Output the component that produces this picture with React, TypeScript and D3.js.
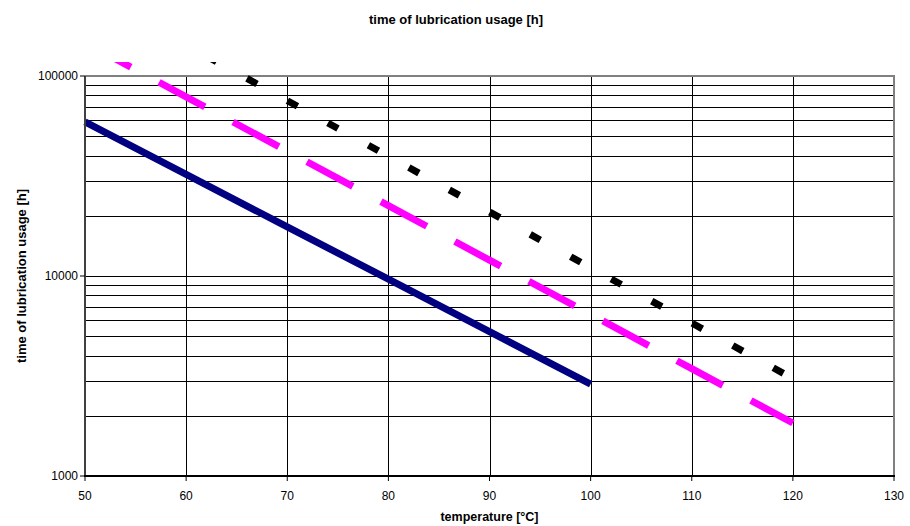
import React from "react";
import * as d3 from "d3";

// temperature [°C] and lubrication life [h]
const blueTemps = [50, 60, 70, 80, 90, 100];
const blueValues = [58900, 32200, 17600, 9640, 5270, 2880];

const pinkTemps = [50, 60, 70, 80, 90, 100, 110, 120];
const pinkValues = [147000, 78700, 42100, 22500, 12000, 6430, 3440, 1840];

const blackTemps = [50, 60, 70, 80, 90, 100, 110, 120];
const blackValues = [271000, 143000, 75300, 39700, 20900, 11000, 5820, 3070];

const xTicks = [50, 60, 70, 80, 90, 100, 110, 120, 130];
const yTicks = [1000, 10000, 100000];

const title = "time of lubrication usage [h]";
const xTitle = "temperature [°C]";
const yTitle = "time of lubrication usage [h]";

const W = 910;
const H = 526;
const left = 85;
const right = 894;
const top = 76;
const bottom = 476;
const font = "'Liberation Sans', Arial, sans-serif";

const App = () => {
  const x = d3.scaleLinear().domain([50, 130]).range([left, right]);
  const y = d3.scaleLog().domain([1000, 100000]).range([bottom, top]);

  const line = d3
    .line<[number, number]>()
    .x((d) => x(d[0]))
    .y((d) => y(d[1]));

  const series = [
    { temps: blueTemps, values: blueValues, color: "#000080", dash: "none" },
    { temps: pinkTemps, values: pinkValues, color: "#FF00FF", dash: "52 32" },
    { temps: blackTemps, values: blackValues, color: "#000000", dash: "11.5 34.7" },
  ];

  const gridY = y.ticks();
  const gridX = xTicks.slice(1, -1);

  return (
    <div style={{ position: "absolute", left: 0, top: 0 }}>
      <svg width={W} height={H} style={{ display: "block", background: "#fff" }}>
        <defs>
          <clipPath id="clip">
            <rect x={0} y={62} width={W} height={H - 62} />
          </clipPath>
        </defs>

        {/* horizontal grid */}
        {gridY.map((v) => (
          <line
            key={"gy" + v}
            x1={left}
            x2={right}
            y1={Math.round(y(v)) + 0.5}
            y2={Math.round(y(v)) + 0.5}
            stroke="#000"
            strokeWidth={1}
          />
        ))}
        {/* vertical grid */}
        {gridX.map((v) => (
          <line
            key={"gx" + v}
            x1={Math.round(x(v)) + 0.5}
            x2={Math.round(x(v)) + 0.5}
            y1={top}
            y2={bottom}
            stroke="#000"
            strokeWidth={1}
          />
        ))}

        {/* plot border */}
        <line x1={left} x2={right + 1} y1={top} y2={top} stroke="#808080" strokeWidth={2} />
        <line x1={right} x2={right} y1={top} y2={bottom} stroke="#808080" strokeWidth={2} />

        {/* series */}
        <g clipPath="url(#clip)">
          {series.map((s, i) => (
            <path
              key={i}
              d={line(s.temps.map((t, j) => [t, s.values[j]]) as [number, number][]) || ""}
              fill="none"
              stroke={s.color}
              strokeWidth={7}
              strokeDasharray={s.dash}
            />
          ))}
        </g>

        {/* axes */}
        <line x1={left} x2={left} y1={top} y2={bottom + 1} stroke="#404040" strokeWidth={2} />
        <line x1={left - 1} x2={right + 1} y1={bottom} y2={bottom} stroke="#000" strokeWidth={2} />

        {yTicks.map((v) => (
          <g key={"yt" + v}>
            <line x1={left - 5} x2={left} y1={y(v)} y2={y(v)} stroke="#000" strokeWidth={1} />
            <text
              x={left - 7}
              y={y(v) + 4}
              textAnchor="end"
              fontFamily={font}
              fontSize={12}
              fill="#000"
            >
              {v}
            </text>
          </g>
        ))}

        {xTicks.map((v) => (
          <g key={"xt" + v}>
            <line x1={x(v)} x2={x(v)} y1={bottom} y2={bottom + 5} stroke="#000" strokeWidth={1} />
            <text
              x={x(v)}
              y={500}
              textAnchor="middle"
              fontFamily={font}
              fontSize={12}
              fill="#000"
            >
              {v}
            </text>
          </g>
        ))}

        {/* titles */}
        <text x={456} y={24} textAnchor="middle" fontFamily={font} fontSize={13} fontWeight="bold">
          {title}
        </text>
        <text
          x={(left + right) / 2}
          y={521}
          textAnchor="middle"
          fontFamily={font}
          fontSize={12.5}
          fontWeight="bold"
        >
          {xTitle}
        </text>
        <text
          transform={`translate(26, ${(top + bottom) / 2}) rotate(-90)`}
          textAnchor="middle"
          fontFamily={font}
          fontSize={13}
          fontWeight="bold"
        >
          {yTitle}
        </text>
      </svg>
    </div>
  );
};

export default App;
